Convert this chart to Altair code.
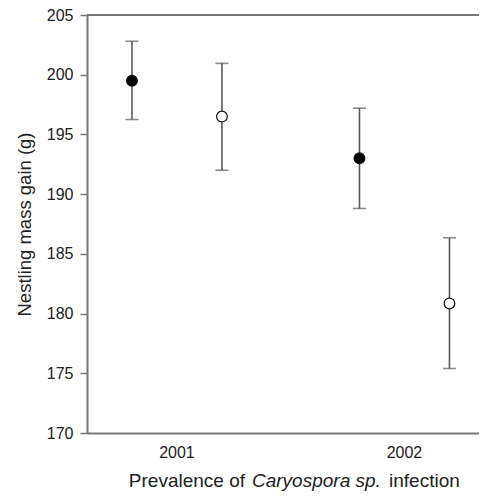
import altair as alt
import pandas as pd

years = ["2001", "2001", "2002", "2002"]
status = ["present", "absent", "present", "absent"]
mean_gain = [199.5, 196.5, 193.0, 180.85]
lower = [196.25, 192.0, 188.8, 175.4]
upper = [202.8, 200.95, 197.2, 186.35]

y_ticks = [170, 175, 180, 185, 190, 195, 200, 205]

df = pd.DataFrame({"year": years, "status": status, "mean": mean_gain,
                   "lower": lower, "upper": upper})

W, H = 392, 418
FONT = "Liberation Sans"
GREY = "#5a5a5a"

x_enc = alt.X("year:N",
              scale=alt.Scale(paddingInner=0.5, paddingOuter=0.1115, align=0.652),
              axis=alt.Axis(title=None, labelAngle=0, ticks=False, domainColor="#777",
                            domainWidth=2, labelFontSize=16, labelFont=FONT,
                            labelColor="#222", labelPadding=11))
xo_enc = alt.XOffset("status:N", sort=["present", "absent"],
                     scale=alt.Scale(paddingInner=0.736, paddingOuter=0))
y_scale = alt.Scale(domain=[170, 205], nice=False, zero=False)
y_axis = alt.Axis(title="Nestling mass gain (g)", values=y_ticks, grid=False,
                  tickSize=7, tickColor="#777", tickWidth=1.5,
                  domainColor="#777", domainWidth=2,
                  labelFontSize=16, labelFont=FONT, labelColor="#222", labelPadding=7,
                  titleFontSize=18.5, titleFont=FONT, titleFontWeight="normal",
                  titleColor="#222", titlePadding=12)

base = alt.Chart(df).encode(x=x_enc, xOffset=xo_enc)

bars = base.mark_rule(color=GREY, strokeWidth=1.6).encode(
    y=alt.Y("lower:Q", scale=y_scale, axis=y_axis), y2="upper:Q")
cap_lo = base.mark_tick(color=GREY, thickness=1.6, size=13).encode(y=alt.Y("lower:Q"))
cap_hi = base.mark_tick(color=GREY, thickness=1.6, size=13).encode(y=alt.Y("upper:Q"))
pts = base.mark_point(shape="circle", size=115, filled=True, stroke="#111",
                      strokeWidth=1.2, opacity=1).encode(
    y=alt.Y("mean:Q"),
    fill=alt.Fill("status:N", scale=alt.Scale(domain=["present", "absent"],
                                              range=["#000000", "#ffffff"]),
                  legend=None))

top_line = alt.Chart(pd.DataFrame({"top": [205]})).mark_rule(
    color="#777", strokeWidth=2).encode(y=alt.Y("top:Q"))

TY = H + 54
TF = 19
t1 = alt.Chart(pd.DataFrame({"t": ["Prevalence of"]})).mark_text(
    align="right", baseline="alphabetic", fontSize=TF, font=FONT, color="#222"
).encode(x=alt.value(158), y=alt.value(TY), text="t:N")
t2 = alt.Chart(pd.DataFrame({"t": ["Caryospora sp."]})).mark_text(
    align="left", baseline="alphabetic", fontSize=TF, font=FONT, fontStyle="italic",
    color="#222"
).encode(x=alt.value(165), y=alt.value(TY), text="t:N")
t3 = alt.Chart(pd.DataFrame({"t": ["infection"]})).mark_text(
    align="left", baseline="alphabetic", fontSize=TF, font=FONT, color="#222"
).encode(x=alt.value(302), y=alt.value(TY), text="t:N")

chart = alt.layer(top_line, bars, cap_lo, cap_hi, pts, t1, t2, t3).properties(
    width=W, height=H,
    autosize=alt.AutoSizeParams(type="none"),
    padding={"left": 79, "top": 7, "right": 0, "bottom": 58},
).configure_view(stroke=None).configure(background="white")

chart.save("out.html", embed_options={"renderer": "svg", "actions": False})
